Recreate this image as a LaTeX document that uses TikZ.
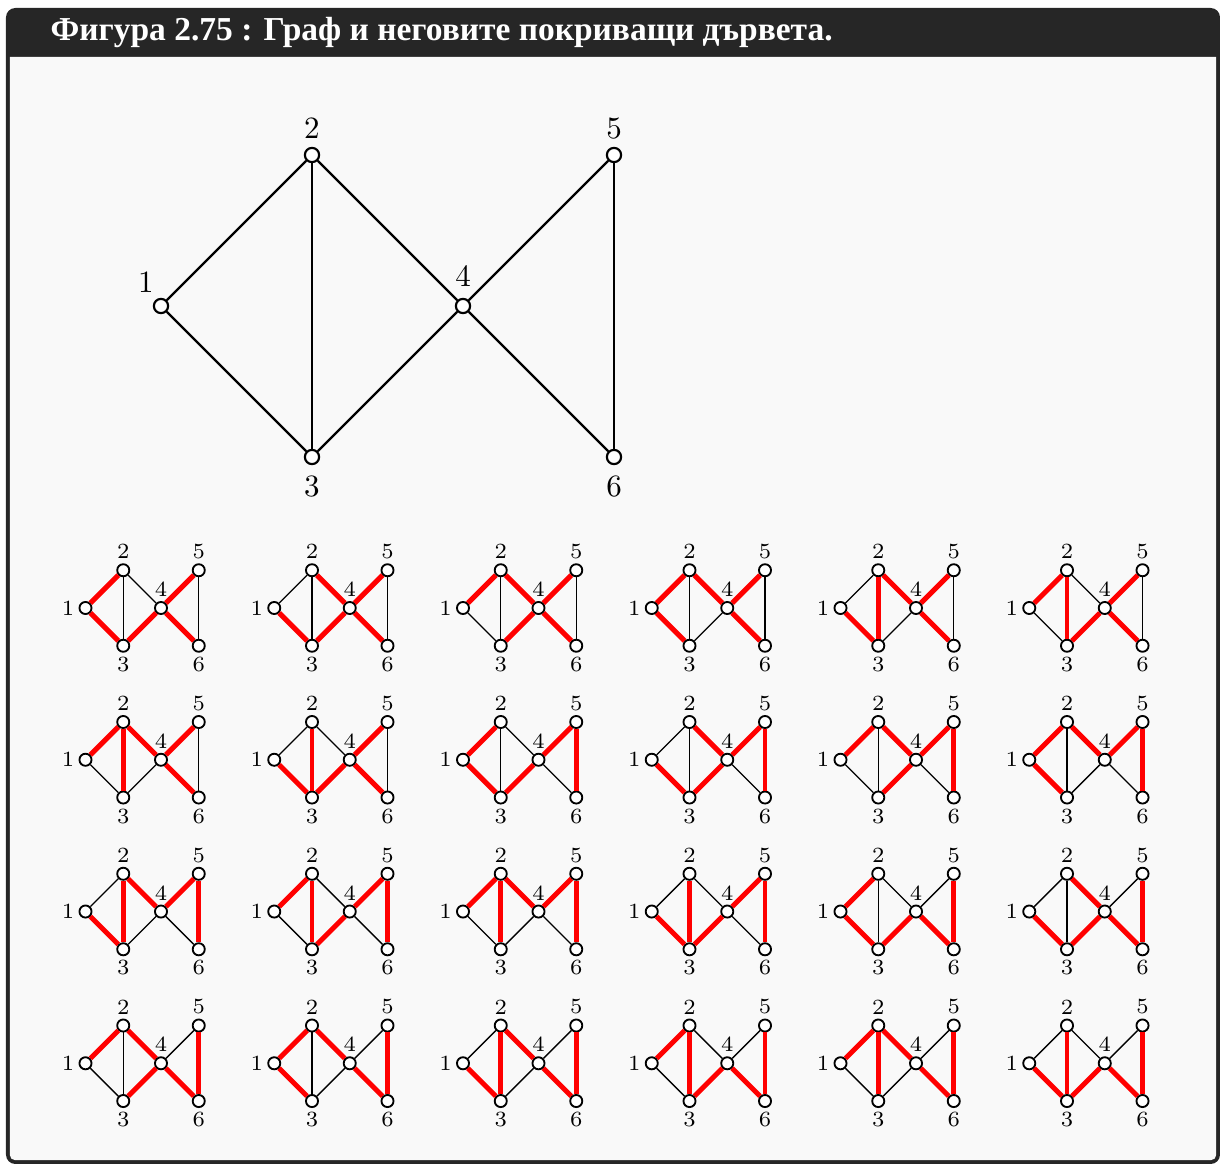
\documentclass[tikz,border=0pt]{standalone}
\usepackage{fontspec}
\newfontfamily\cyrfont{Liberation Serif}
\definecolor{framegray}{HTML}{262626}
\definecolor{panelgray}{HTML}{F9F9F9}

\begin{document}
\begin{tikzpicture}[x=1.712cm, y=1.712cm,
  vertex/.style={circle, draw, fill=white, inner sep=0pt, minimum size=4.6pt, line width=0.7pt},
  smallvertex/.style={circle, draw, fill=white, inner sep=0pt, minimum size=3.9pt, line width=0.6pt},
  bigedge/.style={line width=0.7pt},
  thinedge/.style={line width=0.45pt},
  treeedge/.style={red, line width=1.6pt},
  smalllabel/.style={font=\scriptsize, inner sep=1.2pt}]

% Page size and frame
\useasboundingbox (-1.0662,-5.6821) rectangle (7.0132,2.0265);
\fill[framegray, rounded corners=3pt] (-1.0265,-5.6821) rectangle (7.0132,1.9735);
\fill[panelgray] (-1.0,1.649) -- (6.9868,1.649) [rounded corners=1.5pt] -- (6.9868,-5.6556) -- (-1.0,-5.6556) [sharp corners] -- cycle;
\node[anchor=west, text=white, font=\cyrfont\fontsize{10.8}{13}\selectfont\bfseries, inner sep=0pt] (title) at (-0.735,1.811)
  {Фигура 2.75 : Граф и неговите покриващи дървета.};

% The graph
\node[vertex, label={[xshift=3pt, yshift=-1pt]above left:1}] (v1) at (0,0) {};
\node[vertex, label={[yshift=-1pt]above:2}] (v2) at (1,1) {};
\node[vertex, label=below:3] (v3) at (1,-1) {};
\node[vertex, label=above:4] (v4) at (2,0) {};
\node[vertex, label={[yshift=-1pt]above:5}] (v5) at (3,1) {};
\node[vertex, label=below:6] (v6) at (3,-1) {};
\foreach \a/\b in {1/2,1/3,2/3,2/4,3/4,4/5,4/6,5/6}
  \draw[bigedge] (v\a) -- (v\b);

% Its 24 spanning trees: 8 trees of the left part times 3 of the triangle
\foreach \righttree [count=\g from 0] in {{4/5,4/6},{4/5,5/6},{4/6,5/6}} {
  \foreach \lefttree [count=\k from 0] in {{1/2,1/3,3/4},{1/3,2/4,3/4},{1/2,2/4,3/4},{1/2,1/3,2/4},
                                          {1/3,2/3,2/4},{1/2,2/3,3/4},{1/2,2/3,2/4},{1/3,2/3,3/4}} {
    \pgfmathtruncatemacro\i{8*\g+\k}
    \pgfmathtruncatemacro\row{\i/6}
    \pgfmathtruncatemacro\col{mod(\i,6)}
    \begin{scope}[shift={(-0.5+1.25*\col,-2-1.005*\row)}, scale=0.25]
      \node[smallvertex, label={[smalllabel]left:1}] (t\i-1) at (0,0) {};
      \node[smallvertex, label={[smalllabel]above:2}] (t\i-2) at (1,1) {};
      \node[smallvertex, label={[smalllabel]below:3}] (t\i-3) at (1,-1) {};
      \node[smallvertex, label={[smalllabel]above:4}] (t\i-4) at (2,0) {};
      \node[smallvertex, label={[smalllabel]above:5}] (t\i-5) at (3,1) {};
      \node[smallvertex, label={[smalllabel]below:6}] (t\i-6) at (3,-1) {};
      \foreach \a/\b in {1/2,1/3,2/3,2/4,3/4,4/5,4/6,5/6}
        \draw[thinedge] (t\i-\a) -- (t\i-\b);
      % tree edges in red
      \foreach \a/\b in \lefttree
        \draw[treeedge] (t\i-\a) -- (t\i-\b);
      \foreach \a/\b in \righttree
        \draw[treeedge] (t\i-\a) -- (t\i-\b);
    \end{scope}
  }
}
\end{tikzpicture}
\end{document}
